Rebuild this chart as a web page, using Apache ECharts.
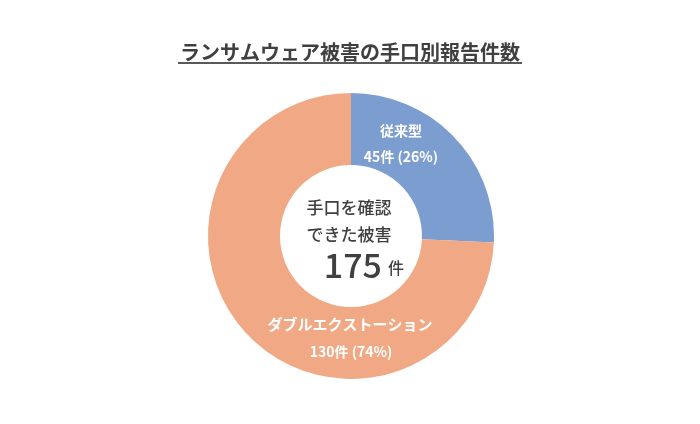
<!DOCTYPE html>
<html><head><meta charset="utf-8">
<script src="https://cdn.jsdelivr.net/npm/echarts@6/dist/echarts.min.js"></script>
<style>html,body{margin:0;padding:0;background:#fff}#c{width:700px;height:424px}</style>
</head><body><div id="c"></div>
<script>
const titleText = 'ランサムウェア被害の手口別報告件数';
const categories = ['従来型', 'ダブルエクストーション'];
const values = [45, 130];
const percents = ['26%', '74%'];
const centerLines = ['手口を確認', 'できた被害'];
const totalUnit = '件';
const colors = ['#7C9DD0', '#F0A984'];
const total = values.reduce((a, b) => a + b, 0);
const FONT = '"Noto Sans CJK JP", "Noto Sans", sans-serif';

const chart = echarts.init(document.getElementById('c'), null, {renderer: 'canvas'});
chart.setOption({
  backgroundColor: '#fff',
  animation: false,
  title: {
    text: titleText, left: 'center', top: 37,
    textStyle: {fontFamily: FONT, fontSize: 20, fontWeight: 'bold', color: '#404040'}
  },
  series: [{
    type: 'pie',
    center: [351, 236],
    radius: [71, 143],
    startAngle: 90,
    clockwise: true,
    label: {show: false},
    labelLine: {show: false},
    itemStyle: {borderWidth: 0},
    emphasis: {disabled: true},
    data: categories.map((c, i) => ({name: c, value: values[i], itemStyle: {color: colors[i]}}))
  }],
  graphic: {
    elements: [
      {type: 'line', z: 100, shape: {x1: 178, y1: 63, x2: 522, y2: 63}, style: {stroke: '#595959', lineWidth: 2}},
      {type: 'text', z: 100, x: 401, y: 131, style: {text: categories[0], fill: '#fff', font: 'bold 14px ' + FONT, textAlign: 'center', textVerticalAlign: 'middle'}},
      {type: 'text', z: 100, x: 401, y: 157, style: {text: values[0] + '件 (' + percents[0] + ')', fill: '#fff', font: 'bold 14px ' + FONT, textAlign: 'center', textVerticalAlign: 'middle'}},
      {type: 'text', z: 100, x: 350, y: 324, style: {text: categories[1], fill: '#fff', font: 'bold 15px ' + FONT, textAlign: 'center', textVerticalAlign: 'middle'}},
      {type: 'text', z: 100, x: 351, y: 352, style: {text: values[1] + '件 (' + percents[1] + ')', fill: '#fff', font: 'bold 14px ' + FONT, textAlign: 'center', textVerticalAlign: 'middle'}},
      {type: 'text', z: 100, x: 349, y: 208, style: {text: centerLines[0], fill: '#404040', font: '500 17px ' + FONT, textAlign: 'center', textVerticalAlign: 'middle'}},
      {type: 'text', z: 100, x: 349, y: 235, style: {text: centerLines[1], fill: '#404040', font: '500 17px ' + FONT, textAlign: 'center', textVerticalAlign: 'middle'}},
      {type: 'text', z: 100, x: 382, y: 265, style: {text: String(total), fill: '#404040', font: '500 34px ' + FONT, textAlign: 'right', textVerticalAlign: 'middle'}},
      {type: 'text', z: 100, x: 388, y: 268, style: {text: totalUnit, fill: '#404040', font: '500 16px ' + FONT, textAlign: 'left', textVerticalAlign: 'middle'}}
    ]
  }
});
</script></body></html>
